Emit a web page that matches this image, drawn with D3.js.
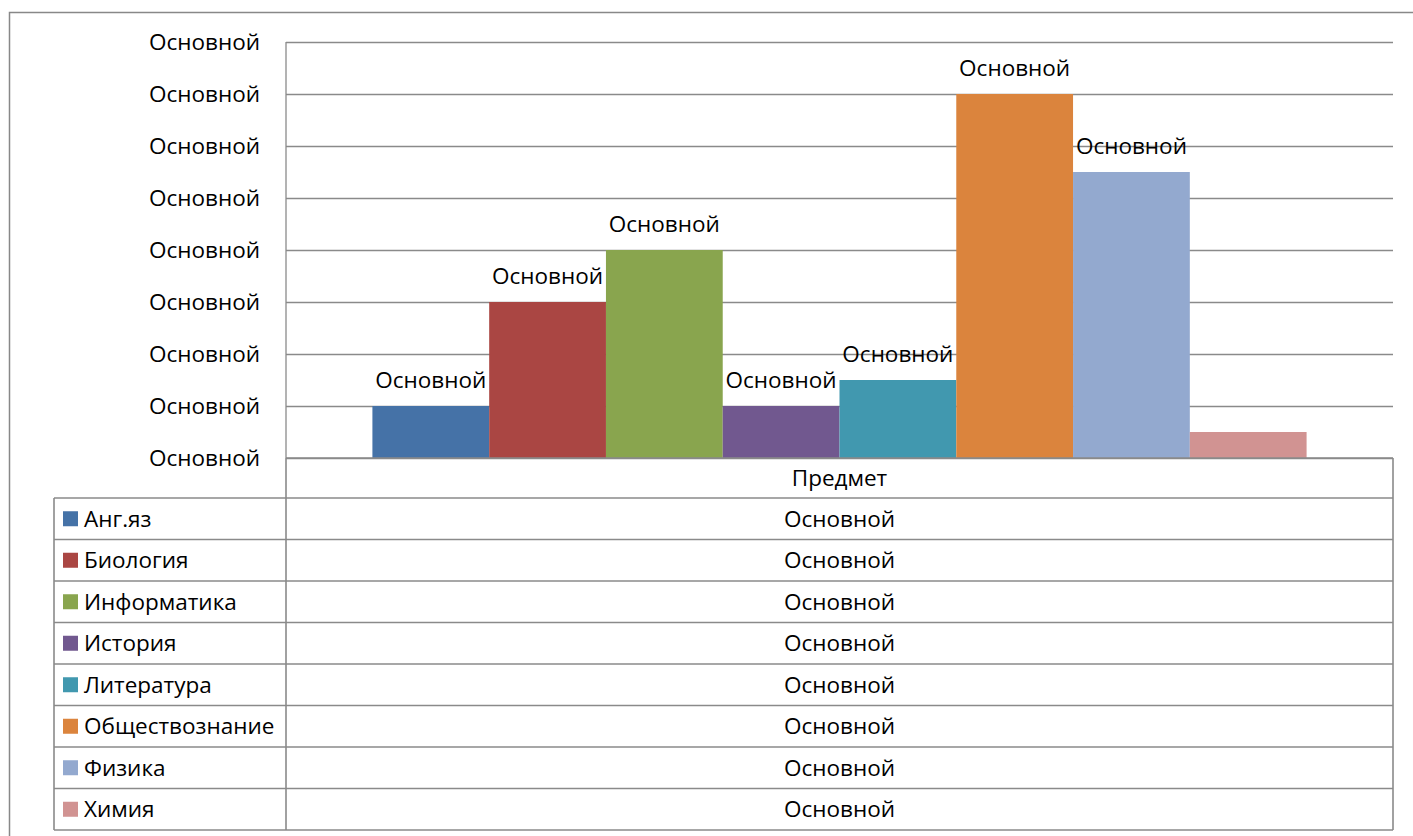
<!DOCTYPE html>
<html>
<head>
<meta charset="utf-8">
<script src="https://cdn.jsdelivr.net/npm/d3@7"></script>
<style>
  body { margin: 0; background: #fff; }
  svg text { font-family: "Open Sans", "Noto Sans", sans-serif; fill: #000; }
</style>
</head>
<body>
<div class="chart"></div>
<script>
// subjects, colors and values
var subjects = ["Анг.яз", "Биология", "Информатика", "История", "Литература", "Обществознание", "Физика", "Химия"];
var values = [1, 3, 4, 1, 1.5, 7, 5.5, 0.5];
var colors = ["#4572A7", "#AA4643", "#89A54E", "#71588F", "#4198AF", "#DB843D", "#93A9CF", "#D19392"];
var category = "Предмет";
var yTicks = [0, 1, 2, 3, 4, 5, 6, 7, 8];
var tickLabel = "Основной";
var tableValue = "Основной";
// the last bar (Химия) shows no data label in the source
var noLabel = ["Химия"];

var W = 1413, H = 836;
var margin = { top: 42, left: 286, right: 20 };
var plotW = 1393 - margin.left,
    plotH = 458 - margin.top;
var tableLeft = 54, rowH = 41.5, headH = 40;
var fs = 22.5;

var svg = d3.select(".chart").append("svg")
    .attr("width", W)
    .attr("height", H);

// outer chart border (runs off the right and bottom edges)
svg.append("rect")
    .attr("x", 9.5).attr("y", 12.5)
    .attr("width", W + 20).attr("height", H + 20)
    .attr("fill", "none")
    .attr("stroke", "#888")
    .attr("stroke-width", 1.5);

var g = svg.append("g")
    .attr("transform", "translate(" + margin.left + "," + margin.top + ")");

var y = d3.scaleLinear()
    .domain([0, 8])
    .range([plotH, 0]);

var x0 = d3.scaleBand()
    .domain([category])
    .range([0, plotW])
    .paddingOuter(0.0925);

var x1 = d3.scaleBand()
    .domain(subjects)
    .range([0, x0.bandwidth()]);

//************************************************************
// gridlines + y axis
//************************************************************
var yAxis = d3.axisLeft(y)
    .tickValues(yTicks)
    .tickSize(-plotW)
    .tickPadding(26)
    .tickFormat(function () { return tickLabel; });

var ya = g.append("g")
    .attr("class", "y axis")
    .call(yAxis);
ya.select(".domain").remove();
ya.selectAll(".tick line")
    .attr("stroke", "#8a8a8a")
    .attr("stroke-width", 1.3);
ya.selectAll(".tick text")
    .attr("font-size", fs)
    .attr("font-family", "'Open Sans', sans-serif");

g.append("line")
    .attr("x1", 0).attr("x2", 0)
    .attr("y1", 0).attr("y2", plotH)
    .attr("stroke", "#8a8a8a")
    .attr("stroke-width", 1.3);

//************************************************************
// bars and data labels
//************************************************************
var bars = g.append("g")
    .attr("transform", "translate(" + x0(category) + ",0)");

bars.selectAll("rect")
    .data(subjects)
    .enter()
    .append("rect")
    .attr("x", function (d) { return x1(d); })
    .attr("width", x1.bandwidth())
    .attr("y", function (d, i) { return y(values[i]); })
    .attr("height", function (d, i) { return plotH - y(values[i]); })
    .attr("fill", function (d, i) { return colors[i]; });

bars.selectAll("text.label")
    .data(subjects.filter(function (d) { return noLabel.indexOf(d) < 0; }))
    .enter()
    .append("text")
    .attr("class", "label")
    .attr("x", function (d) { return x1(d) + x1.bandwidth() / 2; })
    .attr("y", function (d) { return y(values[subjects.indexOf(d)]) - 18; })
    .attr("text-anchor", "middle")
    .attr("font-size", fs)
    .text(tickLabel);

//************************************************************
// data table under the plot
//************************************************************
var tbl = svg.append("g").attr("class", "table");
var lineCol = "#8a8a8a";
var tTop = margin.top + plotH;
var rowsTop = tTop + headH;
var right = margin.left + plotW;

// header cell
tbl.append("text")
    .attr("x", margin.left + plotW / 2)
    .attr("y", tTop + headH / 2)
    .attr("dy", "0.35em")
    .attr("text-anchor", "middle")
    .attr("font-size", fs)
    .text(category);

var rowY = d3.scaleBand()
    .domain(subjects)
    .range([rowsTop, rowsTop + rowH * subjects.length]);

var row = tbl.selectAll("g.row")
    .data(subjects)
    .enter()
    .append("g")
    .attr("class", "row");

row.append("rect")
    .attr("x", 63)
    .attr("y", function (d) { return rowY(d) + rowH / 2 - 7.5; })
    .attr("width", 15).attr("height", 15)
    .attr("fill", function (d, i) { return colors[i]; });

row.append("text")
    .attr("x", 84)
    .attr("y", function (d) { return rowY(d) + rowH / 2; })
    .attr("dy", "0.35em")
    .attr("font-size", fs)
    .text(function (d) { return d; });

row.append("text")
    .attr("x", margin.left + plotW / 2)
    .attr("y", function (d) { return rowY(d) + rowH / 2; })
    .attr("dy", "0.35em")
    .attr("text-anchor", "middle")
    .attr("font-size", fs)
    .text(tableValue);

// horizontal rules
var hRules = subjects.map(function (d) { return rowY(d); }).concat([rowY.range()[1]]);
tbl.selectAll("line.h")
    .data(hRules)
    .enter()
    .append("line")
    .attr("class", "h")
    .attr("x1", tableLeft).attr("x2", right)
    .attr("y1", function (d) { return d; })
    .attr("y2", function (d) { return d; })
    .attr("stroke", lineCol)
    .attr("stroke-width", 1.6);

// bottom of plot / top of header row
tbl.append("line")
    .attr("x1", margin.left).attr("x2", right)
    .attr("y1", tTop).attr("y2", tTop)
    .attr("stroke", lineCol).attr("stroke-width", 1.6);

// verticals
tbl.append("line")
    .attr("x1", tableLeft).attr("x2", tableLeft)
    .attr("y1", rowsTop).attr("y2", rowY.range()[1])
    .attr("stroke", lineCol).attr("stroke-width", 1.6);
tbl.append("line")
    .attr("x1", margin.left).attr("x2", margin.left)
    .attr("y1", tTop).attr("y2", rowY.range()[1])
    .attr("stroke", lineCol).attr("stroke-width", 1.6);
tbl.append("line")
    .attr("x1", right).attr("x2", right)
    .attr("y1", tTop).attr("y2", rowY.range()[1])
    .attr("stroke", lineCol).attr("stroke-width", 1.6);
</script>
</body>
</html>
